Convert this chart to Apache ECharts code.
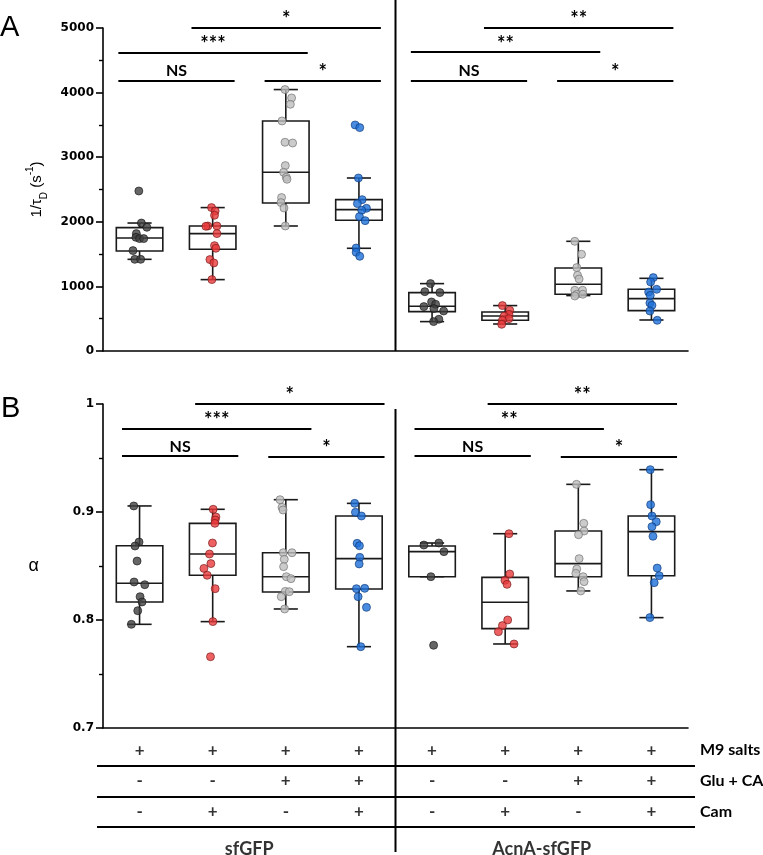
<!DOCTYPE html>
<html><head><meta charset="utf-8">
<script src="https://cdn.jsdelivr.net/npm/echarts@6/dist/echarts.min.js"></script>
<style>html,body{margin:0;padding:0;background:#fff}#c{width:763px;height:855px}</style>
</head><body><div id="c"></div>
<script>
// ---------------- DATA ----------------
const categories = ['sfGFP M9','sfGFP M9+Cam','sfGFP M9+Glu+CA','sfGFP M9+Glu+CA+Cam',
                    'AcnA M9','AcnA M9+Cam','AcnA M9+Glu+CA','AcnA M9+Glu+CA+Cam'];
const rateTicks = [0,1000,2000,3000,4000,5000];
const alphaTicks = [0.7,0.8,0.9,1];

// box stats: [min, Q1, median, Q3, max]
const rateBox = [
  [1419,1548,1749,1910,1981],
  [1105,1574,1817,1935,2220],
  [1935,2291,2766,3561,4047],
  [1590,2023,2189,2343,2678],
  [455,610,692,904,1043],
  [418,475,542,604,703],
  [858,878,1033,1285,1698],
  [480,625,811,955,1125]
];
const ratePoints = [
  [2477,1981,1915,1817,1760,1740,1740,1554,1419,1419],
  [2220,2167,2101,1935,1930,1935,1817,1631,1590,1415,1363,1105],
  [4047,3917,3819,3561,3231,3220,2870,2766,2689,2658,2375,2297,2214,1935],
  [3499,3458,2678,2343,2282,2209,2178,2080,2018,1594,1528,1466],
  [1043,919,904,759,723,687,656,619,491,455],
  [703,630,568,540,501,475,413],
  [1698,1497,1291,1172,1115,940,940,878,878,852],
  [1136,1068,955,913,862,743,707,619,475]
];
const rateJitter = [
  [-0.01,0.025,0.1,-0.044,-0.05,0,0.057,-0.09,-0.065,0.015],
  [-0.016,0.034,0.025,-0.066,-0.093,0.058,0.058,0.025,0.044,-0.038,0.016,-0.011],
  [-0.011,0.079,0.062,-0.052,-0.011,0.093,-0.007,-0.03,0.007,0.016,-0.058,-0.066,-0.025,-0.007],
  [-0.052,0.011,-0.007,0.044,-0.021,0.103,0.038,0.007,0.085,-0.038,-0.038,0.011],
  [-0.021,-0.099,0.107,-0.007,0.048,-0.112,0.025,0.158,0.093,0.021],
  [-0.038,0.062,0.052,-0.014,0.052,-0.038,-0.048],
  [-0.048,0.044,-0.021,-0.011,0.011,-0.048,0.058,-0.021,0.062,-0.048],
  [0.025,-0.011,0.071,-0.038,-0.016,-0.021,0.007,-0.021,0.079]
];
const alphaBox = [
  [0.796,0.8167,0.834,0.8688,0.9056],
  [0.7985,0.8414,0.8611,0.8895,0.9025],
  [0.8102,0.8259,0.8401,0.8623,0.9114],
  [0.7753,0.8287,0.8568,0.8963,0.908],
  [0.8401,0.8401,0.8633,0.8685,0.8713],
  [0.7778,0.792,0.8164,0.8395,0.8799],
  [0.8269,0.8401,0.8522,0.8824,0.9256],
  [0.8022,0.841,0.8818,0.8963,0.9392]
];
const alphaPoints = [
  [0.9056,0.8722,0.8685,0.8546,0.8352,0.8327,0.8216,0.8167,0.8086,0.796],
  [0.9025,0.8954,0.8926,0.8895,0.8713,0.8611,0.8522,0.8478,0.8414,0.829,0.7985,0.766],
  [0.9114,0.9043,0.9019,0.8623,0.8623,0.8562,0.8494,0.8401,0.8383,0.8265,0.8262,0.8216,0.8102],
  [0.908,0.8997,0.8963,0.871,0.8688,0.858,0.8519,0.829,0.8293,0.8216,0.8117,0.7753],
  [0.8713,0.8694,0.8633,0.8401,0.7766],
  [0.8799,0.8426,0.8367,0.833,0.8,0.7948,0.7892,0.7778],
  [0.9256,0.8895,0.8824,0.879,0.8568,0.8472,0.8432,0.8401,0.8355,0.8269],
  [0.9392,0.9068,0.8963,0.891,0.8864,0.8775,0.8481,0.841,0.8346,0.8022]
];
const alphaJitter = [
  [-0.079,-0.007,-0.062,-0.034,-0.075,0.071,0.007,0.034,-0.025,-0.112],
  [0.007,0.044,0.034,0.03,-0.003,-0.044,-0.025,-0.12,-0.075,0.034,0.003,-0.03],
  [-0.079,-0.052,-0.038,-0.034,0.085,-0.021,-0.03,0.007,0.071,-0.007,0.048,-0.062,-0.016],
  [-0.058,-0.048,0.034,-0.025,0.007,0.011,0.003,-0.034,0.079,-0.011,0.103,0.025],
  [0.093,-0.112,0.162,-0.016,0.021],
  [0.052,0.062,-0.003,0.025,0.034,-0.038,-0.093,0.121],
  [-0.025,0.075,0.079,0.003,0.011,-0.021,-0.034,0.066,0.079,0.034],
  [-0.016,-0.011,0.007,0.066,0.007,0.021,0.079,0.107,0.038,-0.021]
];
// significance: [fromCategory, toCategory, level, label]
const rateSig = [
  [1,3,5000,'*'],[0,2,4619,'***'],[0,1,4190,'NS'],[2,3,4180,'*'],
  [5,7,5000,'**'],[4,6,4625,'**'],[4,5,4190,'NS'],[6,7,4180,'*']
];
const alphaSig = [
  [1,3,1.0,'*'],[0,2,0.9775,'***'],[0,1,0.952,'NS'],[2,3,0.951,'*'],
  [5,7,1.0,'**'],[4,6,0.9775,'**'],[4,5,0.952,'NS'],[6,7,0.951,'*']
];
// condition table
const rowNames = ['M9 salts','Glu + CA','Cam'];
const m9Row  = ['+','+','+','+','+','+','+','+'];
const gluRow = ['-','-','+','+','-','-','+','+'];
const camRow = ['-','+','-','+','-','+','-','+'];
const groups = ['sfGFP','AcnA-sfGFP'];
const groupSpans = [[0,3],[4,7]];

// ---------------- STYLE ----------------
const fill   = ['#404040','#e8393b','#bebebe','#1d6fd8'];
const border = ['#151515','#6e1616','#6a6a6a','#0b3472'];
const LBL = {fontFamily:'DejaVu Sans', fontWeight:'bold', fontSize:12, color:'#000'};
const TXT = 'Lato';

function renderBox(params, api){
  const x = api.value(0);
  const lo = api.coord([x, api.value(1)]), q1 = api.coord([x, api.value(2)]),
        md = api.coord([x, api.value(3)]), q3 = api.coord([x, api.value(4)]),
        hi = api.coord([x, api.value(5)]);
  const band = api.size([1,0])[0];
  const hw = band*0.318, cw = band*0.165, cx = lo[0];
  const st = {stroke:'#1a1a1a', lineWidth:1.6};
  return {type:'group', children:[
    {type:'line', shape:{x1:cx,y1:q3[1],x2:cx,y2:hi[1]}, style:st},
    {type:'line', shape:{x1:cx,y1:q1[1],x2:cx,y2:lo[1]}, style:st},
    {type:'line', shape:{x1:cx-cw,y1:hi[1],x2:cx+cw,y2:hi[1]}, style:st},
    {type:'line', shape:{x1:cx-cw,y1:lo[1],x2:cx+cw,y2:lo[1]}, style:st},
    {type:'rect', shape:{x:cx-hw,y:q3[1],width:2*hw,height:q1[1]-q3[1]}, style:{stroke:'#1a1a1a',lineWidth:1.6,fill:'#fff'}},
    {type:'line', shape:{x1:cx-hw,y1:md[1],x2:cx+hw,y2:md[1]}, style:st}
  ]};
}
function boxData(box){ return box.map((b,i)=>[i].concat(b)); }
function pointData(pts, jit){
  const out = [];
  pts.forEach((arr,i)=>arr.forEach((v,k)=>out.push({
    value:[i + jit[i][k], v],
    itemStyle:{color:fill[i%4], borderColor:border[i%4], borderWidth:0.8}
  })));
  return out;
}
function sigLines(sig, extL, extR){
  return sig.map(s=>{
    const star = s[3].indexOf('*') >= 0;
    return [
      {name:s[3], coord:[s[0]-extL, s[2]],
       label:{fontSize: star ? 20 : 16, distance: star ? -2 : 1}},
      {name:s[3], coord:[s[1]+extR, s[2]]}
    ];
  });
}
const markLineBase = {
  silent:true, symbol:['none','none'], animation:false,
  lineStyle:{color:'#000', width:2, type:'solid'},
  emphasis:{disabled:true},
  label:{show:true, position:'middle', distance:1, formatter:'{b}', color:'#000',
         fontFamily:TXT, fontWeight:'bold', fontSize:16}
};
function catAxis(grid){
  return {type:'category', gridIndex:grid, data:categories, boundaryGap:true,
    axisLine:{onZero:false, lineStyle:{color:'#000', width:1.6}},
    axisTick:{alignWithLabel:true, length:7, lineStyle:{color:'#000', width:1.6}},
    axisLabel:{show:false}, splitLine:{show:false}};
}
function valAxisX(grid, mn, mx){ return {type:'value', gridIndex:grid, min:mn, max:mx, show:false,
  axisLine:{onZero:false}}; }
function valAxisY(grid, ticks, fmt, extra){
  return Object.assign({type:'value', gridIndex:grid, min:ticks[0], max:ticks[ticks.length-1],
    interval: ticks[1]-ticks[0],
    axisLine:{show:true, onZero:false, lineStyle:{color:'#000', width:1.6}},
    axisTick:{show:true, length:7, lineStyle:{color:'#000', width:1.6}},
    minorTick:{show:true, splitNumber:2, length:4, lineStyle:{color:'#000', width:1.4}},
    axisLabel:Object.assign({margin:9, formatter:fmt}, LBL),
    splitLine:{show:false}, minorSplitLine:{show:false}}, extra);
}

const tableRows = [m9Row, gluRow, camRow];
const tableData = [];
tableRows.forEach((row,r)=>row.forEach((s,i)=>tableData.push([i, 2.5 - r, s])));
const groupData = groups.map((g,k)=>[(groupSpans[k][0]+groupSpans[k][1])/2, -0.72, g]);

const chart = echarts.init(document.getElementById('c'), null, {renderer:'canvas'});
chart.setOption({
  animation:false,
  backgroundColor:'#fff',
  title:[
    {text:'A', left:0, top:13, padding:0, textStyle:{fontFamily:'Liberation Sans', fontWeight:'normal', fontSize:29, color:'#000'}},
    {text:'B', left:1, top:394, padding:0, textStyle:{fontFamily:'Liberation Sans', fontWeight:'normal', fontSize:29, color:'#000'}}
  ],
  grid:[
    {left:103, right:75, top:28, height:323, outerBoundsMode:'none', containLabel:false},
    {left:103, right:75, top:404, height:324, outerBoundsMode:'none', containLabel:false},
    {left:97, right:68, top:735, height:92, outerBoundsMode:'none', containLabel:false}
  ],
  xAxis:[
    catAxis(0), valAxisX(0,-0.5,7.5),
    catAxis(1), valAxisX(1,-0.5,7.5),
    valAxisX(2,-0.582,7.596)
  ],
  yAxis:[
    valAxisY(0, rateTicks, v=>String(Math.round(v)), {
      name:'1/{t|τ}{sub|D} (s{sup|-1})', nameLocation:'middle', nameGap:54,
      nameTextStyle:{fontFamily:'Liberation Sans', fontSize:15, color:'#000', lineHeight:24,
        rich:{t:{fontFamily:'Liberation Sans', fontSize:15, lineHeight:24},
              sub:{fontFamily:'Liberation Sans', fontSize:10, verticalAlign:'bottom', lineHeight:24},
              sup:{fontFamily:'Liberation Sans', fontSize:10, verticalAlign:'top', lineHeight:24}}}
    }),
    valAxisY(1, alphaTicks, v=>(Math.abs(v-1)<1e-9 ? '1' : v.toFixed(1)), {
      name:'α', nameLocation:'middle', nameGap:64, nameRotate:0,
      nameTextStyle:{fontFamily:'Liberation Sans', fontSize:18, color:'#000'}
    }),
    {type:'value', gridIndex:2, min:0, max:3, interval:0.5, position:'right',
     axisLine:{show:false, onZero:false}, axisTick:{show:false}, splitLine:{show:false},
     axisLabel:{margin:5, fontFamily:TXT, fontWeight:'bold', fontSize:16, color:'#000',
       formatter:v=>{ const r = Math.round(2.5 - v); return (Math.abs((v*2)%2-1)<1e-6 && rowNames[r]) ? rowNames[r] : ''; }}}
  ],
  series:[
    {type:'custom', xAxisIndex:1, yAxisIndex:0, z:2, renderItem:renderBox,
     encode:{x:0, y:[1,2,3,4,5]}, data:boxData(rateBox), silent:true},
    {type:'scatter', xAxisIndex:1, yAxisIndex:0, z:3, symbolSize:8, clip:false, silent:true,
     data:pointData(ratePoints, rateJitter),
     markLine:Object.assign({data:sigLines(rateSig,0.29,0.30)}, markLineBase)},
    {type:'custom', xAxisIndex:3, yAxisIndex:1, z:2, renderItem:renderBox,
     encode:{x:0, y:[1,2,3,4,5]}, data:boxData(alphaBox), silent:true},
    {type:'scatter', xAxisIndex:3, yAxisIndex:1, z:3, symbolSize:8, clip:false, silent:true,
     data:pointData(alphaPoints, alphaJitter),
     markLine:Object.assign({data:sigLines(alphaSig,0.24,0.35)}, markLineBase)},
    {type:'scatter', xAxisIndex:4, yAxisIndex:2, symbolSize:1, clip:false, silent:true,
     itemStyle:{color:'rgba(0,0,0,0)'},
     label:{show:true, position:'inside', formatter:p=>p.value[2], color:'#000',
            fontFamily:TXT, fontWeight:'bold', fontSize:17},
     data:tableData,
     markLine:{silent:true, symbol:['none','none'], animation:false, label:{show:false},
       lineStyle:{color:'#000', width:2, type:'solid'},
       data:[{yAxis:2},{yAxis:1},{yAxis:0}]}},
    {type:'scatter', xAxisIndex:4, yAxisIndex:2, symbolSize:1, clip:false, silent:true,
     itemStyle:{color:'rgba(0,0,0,0)'},
     label:{show:true, position:'inside', formatter:p=>p.value[2], color:'#000',
            fontFamily:TXT, fontWeight:'bold', fontSize:18},
     data:groupData}
  ]
});

// vertical divider between the two strains, located through the axis scale
const xd = chart.convertToPixel({xAxisIndex:1}, 3.5);
const yA0 = chart.convertToPixel({yAxisIndex:0}, 0);
const yB1 = chart.convertToPixel({yAxisIndex:1}, 1);
chart.setOption({graphic:[
  {type:'line', z:10, shape:{x1:xd, y1:0, x2:xd, y2:yA0}, style:{stroke:'#000', lineWidth:2}},
  {type:'line', z:10, shape:{x1:xd, y1:yB1+5, x2:xd, y2:852}, style:{stroke:'#000', lineWidth:2}}
]});
</script></body></html>
